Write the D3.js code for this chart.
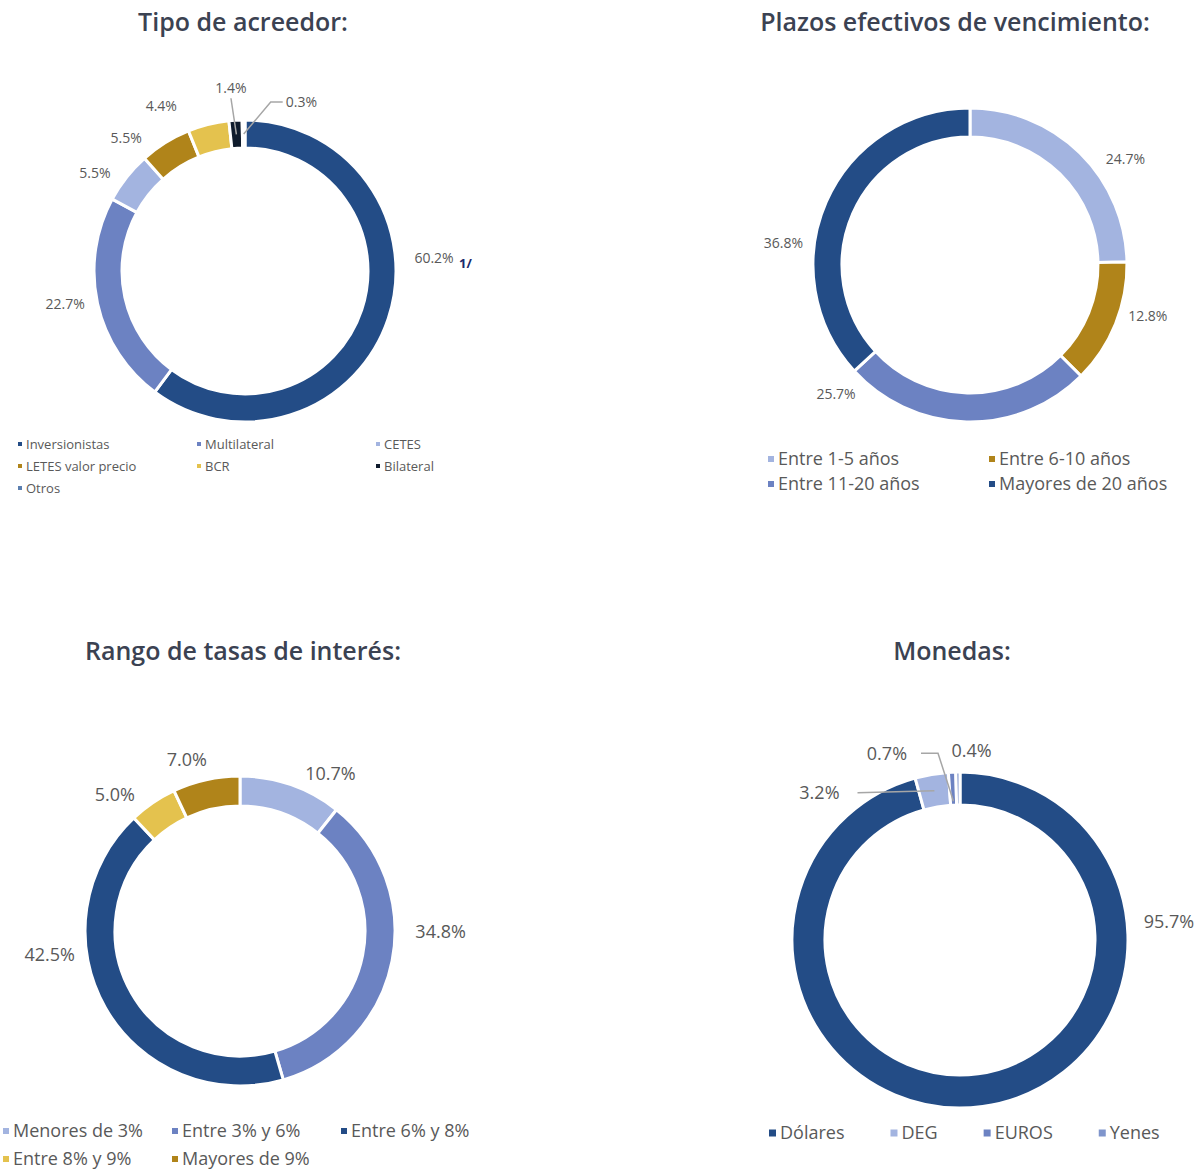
<!DOCTYPE html>
<html>
<head>
<meta charset="utf-8">
<script src="https://cdn.jsdelivr.net/npm/d3@7"></script>
<style>
  body { margin: 0; background: #fff; }
  svg { display: block; font-family: "Open Sans", Lato, sans-serif; }
</style>
</head>
<body>
<div id="chart"></div>
<script>
// colours used by the four donuts
const DARK = "#234c86", MID = "#6c82c2", LIGHT = "#a3b4e0",
      BROWN = "#b0841a", YELLOW = "#e4c24e", BLACK = "#0f1b2c", OTROS = "#5b7fb0";

// Tipo de acreedor
const acreedorCats = ["Inversionistas", "Multilateral", "CETES", "LETES valor precio", "BCR", "Bilateral", "Otros"];
const acreedorVals = [60.2, 22.7, 5.5, 5.5, 4.4, 1.4, 0.3];
const acreedorColors = [DARK, MID, LIGHT, BROWN, YELLOW, BLACK, OTROS];

// Plazos efectivos de vencimiento
const plazosCats = ["Entre 1-5 años", "Entre 6-10 años", "Entre 11-20 años", "Mayores de 20 años"];
const plazosVals = [24.7, 12.8, 25.7, 36.8];
const plazosColors = [LIGHT, BROWN, MID, DARK];

// Rango de tasas de interés
const tasasCats = ["Menores de 3%", "Entre 3% y 6%", "Entre 6% y 8%", "Entre 8% y 9%", "Mayores de 9%"];
const tasasVals = [10.7, 34.8, 42.5, 5.0, 7.0];
const tasasColors = [LIGHT, MID, DARK, YELLOW, BROWN];

// Monedas
const monedasCats = ["Dólares", "DEG", "EUROS", "Yenes"];
const monedasVals = [95.7, 3.2, 0.7, 0.4];
const monedasColors = [DARK, LIGHT, MID, "#7f95cc"];

const W = 1202, H = 1174;
const svg = d3.select("#chart").append("svg").attr("width", W).attr("height", H);

// draw one donut with its title, labels and legend
function donut(cfg) {
  const g = svg.append("g").attr("transform", `translate(${cfg.cx}, ${cfg.cy})`);
  const pie = d3.pie().sort(null).value((d) => d.value);
  const arcs = pie(cfg.cats.map((c, i) => ({ cat: c, value: cfg.vals[i], color: cfg.colors[i] })));
  const arc = d3.arc().innerRadius(cfg.r - cfg.thick).outerRadius(cfg.r);
  const midArc = d3.arc().innerRadius(cfg.r - cfg.thick / 2).outerRadius(cfg.r - cfg.thick / 2);
  const inArc = d3.arc().innerRadius(cfg.r - cfg.thick + 4).outerRadius(cfg.r - cfg.thick + 4);
  const lblArc = d3.arc().innerRadius(cfg.r + 25).outerRadius(cfg.r + 25);

  g.selectAll("path.slice")
    .data(arcs)
    .join("path")
    .attr("class", "slice")
    .attr("d", arc)
    .attr("fill", (d) => d.data.color)
    .attr("stroke", "#fff")
    .attr("stroke-width", 3);

  // labels
  arcs.forEach((d, i) => {
    const c = lblArc.centroid(d);
    const n = cfg.nudge[i] || [0, 0];
    const lx = c[0] + n[0], ly = c[1] + n[1];
    const t = g.append("text")
      .attr("x", lx)
      .attr("y", ly)
      .attr("dy", "0.35em")
      .attr("text-anchor", "middle")
      .style("font-size", cfg.labelSize + "px")
      .style("fill", "#595959")
      .text(d.data.value.toFixed(1) + "%");
    const lead = cfg.leaders && cfg.leaders[i];
    if (lead) {
      const bb = t.node().getBBox();
      let pts;
      if (lead === "left") {
        const sx = bb.x - 3;
        pts = [[sx, ly], [sx - 12, ly], midArc.centroid(d)];
      } else if (lead === "right") {
        const sx = bb.x + bb.width + 18;
        pts = [[sx, ly], midArc.centroid(d)];
      } else if (lead === "rightDown") {
        const sx = bb.x + bb.width + 14;
        pts = [[sx, ly], [sx + 17, ly], inArc.centroid(d)];
      } else {
        pts = [[lx, bb.y + bb.height + 1], midArc.centroid(d)];
      }
      g.append("polyline")
        .attr("points", pts.map((q) => q.join(",")).join(" "))
        .attr("fill", "none")
        .attr("stroke", "#a6a6a6")
        .attr("stroke-width", 1.5);
    }
  });

  // title
  svg.append("text")
    .attr("x", cfg.titleX)
    .attr("y", cfg.titleY)
    .attr("text-anchor", "middle")
    .style("font-size", "25px")
    .style("font-weight", 600)
    .style("fill", "#3b4252")
    .text(cfg.title);

  // legend
  const lg = svg.append("g");
  let flowX = cfg.legX;
  cfg.cats.forEach((c, i) => {
    const col = i % cfg.legCols, row = Math.floor(i / cfg.legCols);
    const x = cfg.legGap ? flowX : cfg.legX + col * cfg.legDX;
    const y = cfg.legY + row * cfg.legDY;
    lg.append("rect")
      .attr("x", x)
      .attr("y", y - cfg.mark / 2)
      .attr("width", cfg.mark)
      .attr("height", cfg.mark)
      .attr("fill", cfg.colors[i]);
    const t = lg.append("text")
      .attr("x", x + cfg.mark + 4)
      .attr("y", y)
      .attr("dy", "0.35em")
      .style("font-size", cfg.legSize + "px")
      .style("fill", "#595959")
      .text(c);
    if (cfg.legGap) flowX = x + cfg.mark + 4 + t.node().getComputedTextLength() + cfg.legGap;
  });
  return g;
}

donut({
  cats: acreedorCats, vals: acreedorVals, colors: acreedorColors,
  cx: 245, cy: 271, r: 151, thick: 28, labelSize: 14,
  nudge: [[22, -68], [-8, -5], [-12, 11], [-26, 17], [-41, 6], [-3, -7], [58, 7]],
  leaders: [null, null, null, null, null, "below", "left"],
  title: "Tipo de acreedor:", titleX: 243, titleY: 31,
  legX: 18, legY: 444, legCols: 3, legDX: 179, legDY: 22, mark: 4, legSize: 13
});
// footnote marks
svg.append("text").attr("x", 459).attr("y", 268)
  .style("font-size", "13px").style("font-weight", "bold").style("fill", "#1a2a6c").text("1/");
svg.append("text").attr("x", 356).attr("y", 305)
  .style("font-size", "11px").style("fill", "#ffffff").text("/");

donut({
  cats: plazosCats, vals: plazosVals, colors: plazosColors,
  cx: 970, cy: 265, r: 157, thick: 29, labelSize: 14,
  nudge: [[28, 24], [9, -17], [-130, -53], [-20, 51]],
  title: "Plazos efectivos de vencimiento:", titleX: 955, titleY: 31,
  legX: 768, legY: 459, legCols: 2, legDX: 221, legDY: 25, mark: 6, legSize: 18
});

donut({
  cats: tasasCats, vals: tasasVals, colors: tasasColors,
  cx: 240, cy: 931, r: 155, thick: 30, labelSize: 18,
  nudge: [[31, 13], [24, -34], [-34, -65], [-24, 13], [-14, 4]],
  title: "Rango de tasas de interés:", titleX: 243, titleY: 660,
  legX: 3, legY: 1131, legCols: 3, legDX: 169, legDY: 28, mark: 6, legSize: 18
});

donut({
  cats: monedasCats, vals: monedasVals, colors: monedasColors,
  cx: 960, cy: 940, r: 168, thick: 33, labelSize: 18,
  nudge: [[183, -210], [-108, 43], [-64, 6], [14, 4]],
  leaders: [null, "right", "rightDown", null],
  title: "Monedas:", titleX: 952, titleY: 660,
  legX: 769, legY: 1133, legCols: 4, legDX: 0, legDY: 0, legGap: 46, mark: 7, legSize: 18
});
</script>
</body>
</html>
